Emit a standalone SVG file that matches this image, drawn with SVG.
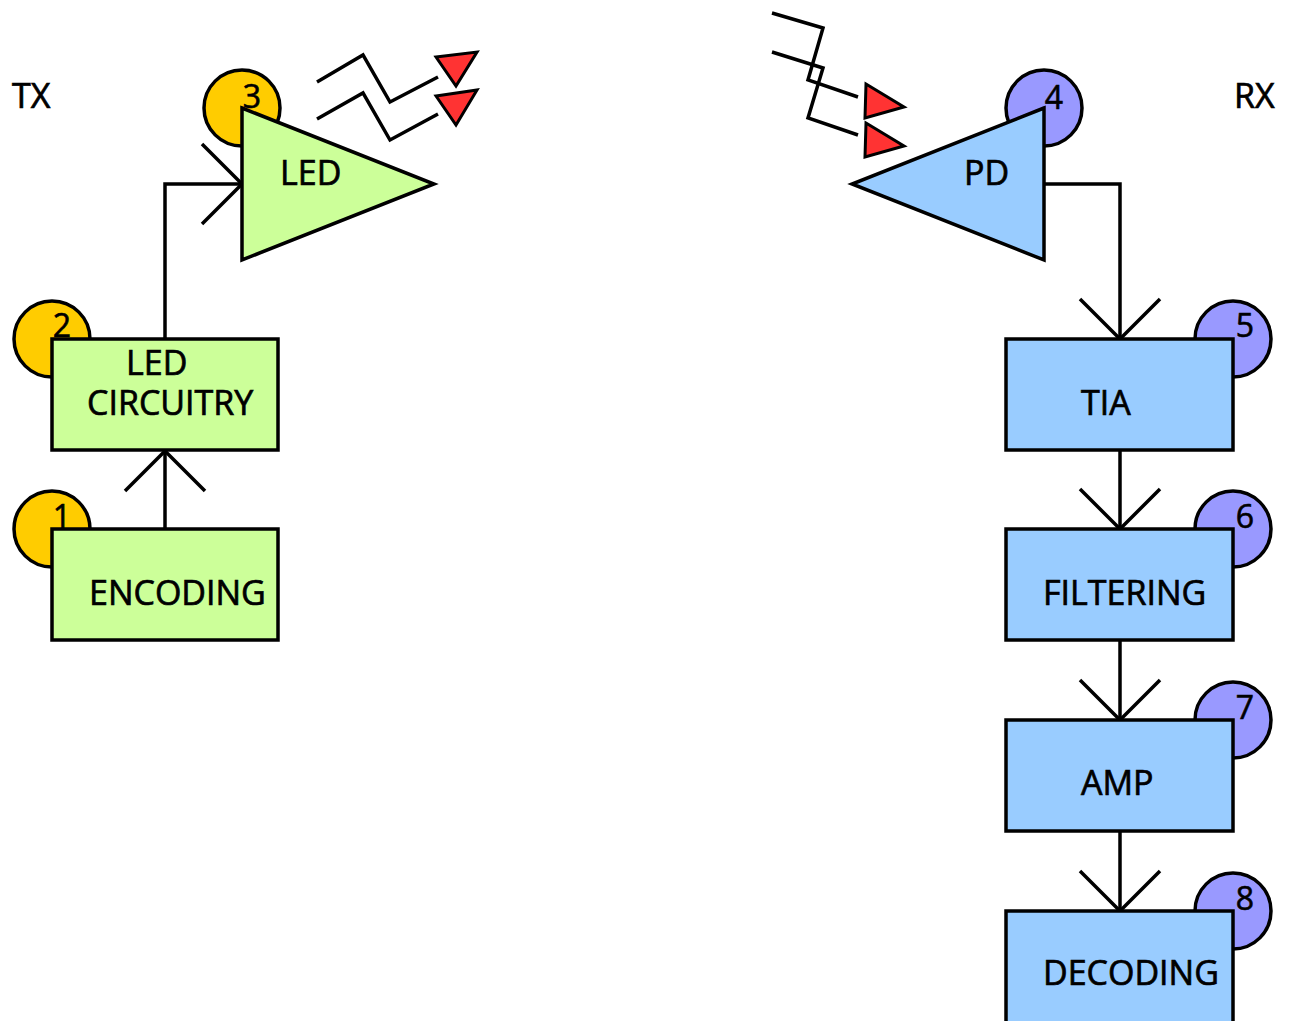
<svg xmlns="http://www.w3.org/2000/svg" width="1289" height="1021" viewBox="0 0 1289 1021">
<style>
.ln{fill:none;stroke:#000;stroke-width:3.5;stroke-linejoin:miter}
.tx{fill:#ccff99;stroke:#000;stroke-width:3.5}
.rx{fill:#99ccff;stroke:#000;stroke-width:3.5}
.ctx{fill:#ffcc00;stroke:#000;stroke-width:3.5}
.crx{fill:#9999ff;stroke:#000;stroke-width:3.5}
.ray{fill:#ff3333;stroke:#000;stroke-width:3;stroke-linejoin:miter}
.lbl{font-family:"Open Sans","Liberation Sans",sans-serif;font-size:34px;fill:#000;stroke:#000;stroke-width:0.7}
.num{font-family:"Open Sans","Liberation Sans",sans-serif;font-size:32px;fill:#000;stroke:#000;stroke-width:0.6;text-anchor:middle}
</style>
<rect width="1289" height="1021" fill="#fff"/>
<text class="lbl" x="12" y="108">TX</text>
<text class="lbl" x="1234" y="108">RX</text>

<g id="connectors">
<path class="ln" d="M165,529 V452"/>
<path class="ln" d="M125,491 L165,451 L205,491"/>
<path class="ln" d="M165,339 V184 H240"/>
<path class="ln" d="M202,144 L242,184 L202,224"/>
<path class="ln" d="M1044,184 H1120 V337"/>
<path class="ln" d="M1080,299 L1120,339 L1160,299"/>
<path class="ln" d="M1120,450 V527"/>
<path class="ln" d="M1080,489 L1120,529 L1160,489"/>
<path class="ln" d="M1120,640 V718"/>
<path class="ln" d="M1080,680 L1120,720 L1160,680"/>
<path class="ln" d="M1120,831 V909"/>
<path class="ln" d="M1080,871 L1120,911 L1160,871"/>
</g>

<g id="tx-light">
<path class="ln" d="M317,82 L363,55 L390,102 L438,77"/>
<path class="ln" d="M317,119 L363,93 L390,140 L438,114"/>
<polygon class="ray" points="436,57 477,52 456,86"/>
<polygon class="ray" points="436,96 477,90 456,125"/>
</g>
<g id="rx-light">
<path class="ln" d="M772,13 L823,28 L808,80 L858,97"/>
<path class="ln" d="M772,52 L823,68 L808,118 L858,135"/>
<polygon class="ray" points="866,84 904,107 865,118"/>
<polygon class="ray" points="866,123 904,146 865,157"/>
</g>

<g id="node1">
<circle class="ctx" cx="52" cy="529" r="38"/>
<rect class="tx" x="52" y="529" width="226" height="111"/>
<text class="lbl" x="89" y="605">ENCODING</text>
<text class="num" x="62" y="528">1</text>
</g>
<g id="node2">
<circle class="ctx" cx="52" cy="339" r="38"/>
<rect class="tx" x="52" y="339" width="226" height="111"/>
<text class="lbl"><tspan x="126" y="375">LED</tspan><tspan x="87" y="415">CIRCUITRY</tspan></text>
<text class="num" x="62" y="337">2</text>
</g>
<g id="node3">
<circle class="ctx" cx="242" cy="108" r="38"/>
<polygon class="tx" points="242,108 434,184 242,260"/>
<text class="lbl" x="280" y="185">LED</text>
<text class="num" x="252" y="108">3</text>
</g>
<g id="node4">
<circle class="crx" cx="1044" cy="108" r="38"/>
<polygon class="rx" points="1044,108 852,184 1044,260"/>
<text class="lbl" x="964" y="185">PD</text>
<text class="num" x="1054" y="109">4</text>
</g>
<g id="node5">
<circle class="crx" cx="1233" cy="339" r="38"/>
<rect class="rx" x="1006" y="339" width="227" height="111"/>
<text class="lbl" x="1081" y="415">TIA</text>
<text class="num" x="1245" y="337">5</text>
</g>
<g id="node6">
<circle class="crx" cx="1233" cy="529" r="38"/>
<rect class="rx" x="1006" y="529" width="227" height="111"/>
<text class="lbl" x="1043" y="605">FILTERING</text>
<text class="num" x="1245" y="528">6</text>
</g>
<g id="node7">
<circle class="crx" cx="1233" cy="720" r="38"/>
<rect class="rx" x="1006" y="720" width="227" height="111"/>
<text class="lbl" x="1081" y="795">AMP</text>
<text class="num" x="1245" y="719">7</text>
</g>
<g id="node8">
<circle class="crx" cx="1233" cy="911" r="38"/>
<rect class="rx" x="1006" y="911" width="227" height="130"/>
<text class="lbl" x="1043" y="985">DECODING</text>
<text class="num" x="1245" y="910">8</text>
</g>
</svg>
